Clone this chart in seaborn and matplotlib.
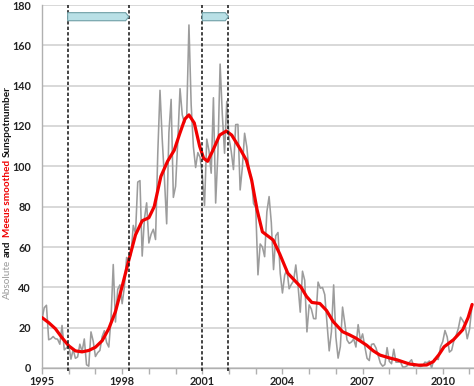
import numpy as np
import pandas as pd
import matplotlib
matplotlib.use("Agg")
import matplotlib.pyplot as plt
import seaborn as sns
from matplotlib.ticker import MultipleLocator
from matplotlib.patches import Polygon

# ---------------- data ----------------
start_year = 1995
monthly_sunspots = [
    24.2, 29.9, 31.1, 14.0, 14.5, 15.6, 14.5, 14.3, 11.8, 21.1, 9.0, 10.0,      # 1995
    11.5, 4.4, 9.2, 4.8, 5.5, 11.8, 8.2, 14.4, 1.6, 0.9, 17.9, 13.3,            # 1996
    5.7, 7.6, 8.7, 15.5, 18.5, 12.7, 10.4, 24.4, 51.3, 22.8, 39.0, 41.2,        # 1997
    31.9, 40.3, 54.8, 53.4, 56.3, 70.7, 66.6, 92.2, 92.9, 55.5, 74.0, 81.9,     # 1998
    62.0, 66.3, 68.8, 63.7, 106.4, 137.7, 113.5, 93.7, 71.5, 116.7, 133.2, 84.6,  # 1999
    90.1, 112.9, 138.5, 125.5, 121.6, 124.9, 170.1, 130.5, 109.7, 99.4, 106.8, 104.4,  # 2000
    95.6, 80.6, 113.5, 107.7, 96.6, 134.0, 81.8, 106.4, 150.7, 125.5, 106.5, 132.2,  # 2001
    114.1, 107.4, 98.4, 120.7, 120.8, 88.3, 99.6, 116.4, 109.6, 97.5, 95.0, 81.6,  # 2002
    79.5, 46.2, 61.5, 60.0, 55.2, 77.4, 85.0, 72.1, 48.8, 65.6, 67.2, 47.0,     # 2003
    37.2, 46.0, 48.9, 39.3, 41.5, 43.2, 51.1, 40.9, 27.7, 48.0, 43.5, 17.9,     # 2004
    31.3, 29.2, 24.5, 24.4, 42.6, 39.6, 39.9, 36.4, 22.1, 8.5, 18.0, 41.2,      # 2005
    15.3, 4.9, 10.6, 30.2, 22.3, 13.9, 12.2, 12.9, 14.4, 10.4, 21.5, 13.6,      # 2006
    16.9, 10.6, 4.8, 3.7, 11.7, 12.0, 10.0, 6.2, 2.4, 0.9, 1.7, 10.1,           # 2007
    3.3, 2.1, 9.3, 2.9, 2.9, 3.1, 0.5, 0.5, 1.1, 2.9, 4.1, 0.8,                 # 2008
    1.5, 1.4, 0.7, 1.2, 2.9, 2.6, 3.5, 0.0, 4.2, 4.6, 4.2, 10.6,                # 2009
    13.1, 18.6, 15.4, 7.9, 8.8, 13.5, 16.1, 19.6, 25.2, 23.5, 21.6, 14.5,       # 2010
    19.0, 29.4,                                                                 # 2011
]

smooth_years = [
    1995.00, 1995.25, 1995.50, 1995.75, 1996.00, 1996.25, 1996.50, 1996.75,
    1997.00, 1997.25, 1997.50, 1997.75, 1998.00, 1998.25, 1998.50, 1998.75,
    1999.00, 1999.20, 1999.45, 1999.70, 1999.95, 2000.15, 2000.35, 2000.50,
    2000.70, 2000.90, 2001.05, 2001.20, 2001.40, 2001.65, 2001.90, 2002.10,
    2002.40, 2002.65, 2002.85, 2003.05, 2003.25, 2003.45, 2003.65, 2003.90,
    2004.20, 2004.45, 2004.70, 2004.90, 2005.10, 2005.40, 2005.65, 2005.90,
    2006.25, 2006.50, 2006.75, 2007.15, 2007.40, 2007.65, 2008.00, 2008.30,
    2008.75, 2009.10, 2009.40, 2009.65, 2009.85, 2010.05, 2010.40, 2010.75,
    2010.95, 2011.10,
]
smooth_values = [
    25.0, 22.5, 19.5, 15.0, 11.0, 8.5, 8.0, 8.7,
    10.3, 13.5, 19.5, 28.0, 40.5, 53.5, 66.0, 73.0,
    74.5, 80.0, 95.0, 102.5, 108.0, 116.0, 123.5, 125.5,
    121.5, 110.0, 104.0, 102.5, 108.0, 115.5, 117.5, 115.5,
    109.0, 103.0, 93.0, 78.5, 67.5, 65.5, 63.5, 56.5,
    47.0, 43.5, 40.0, 35.5, 32.5, 32.0, 28.5, 23.0,
    18.0, 16.5, 14.8, 11.3, 8.5, 6.4, 5.0, 4.0,
    2.0, 1.4, 1.5, 3.2, 6.5, 10.5, 14.0, 19.0,
    25.0, 31.5,
]

# marked periods (dashed boundaries + arrows)
period_starts = [1995.96, 2001.0]
period_ends = [1998.25, 2001.98]

y_ticks = [0, 20, 40, 60, 80, 100, 120, 140, 160, 180]

# ---------------- build frames ----------------
month_years = [start_year + i / 12.0 for i in range(len(monthly_sunspots))]
df_abs = pd.DataFrame({"year": month_years, "ssn": monthly_sunspots})
df_smooth = pd.DataFrame({"year": smooth_years, "ssn": smooth_values})

# ---------------- style ----------------
sns.set_theme(style="whitegrid")
plt.rcParams["font.family"] = ["Lato", "DejaVu Sans"]

W, H = 474, 386
fig = plt.figure(figsize=(W / 100, H / 100), dpi=100)
ax = fig.add_axes([42 / W, 18 / H, 1 - 42 / W, 363 / H])

sns.lineplot(data=df_abs, x="year", y="ssn", ax=ax, color="#9c9c9c",
             linewidth=1.15, zorder=3)
sns.lineplot(data=df_smooth, x="year", y="ssn", ax=ax, color="#f20000",
             linewidth=2.3, zorder=4)

ax.set_xlim(1995, 2011.17)
ax.set_ylim(0, 180)
ax.set_yticks(y_ticks)
ax.xaxis.set_major_locator(MultipleLocator(3))
ax.xaxis.set_minor_locator(MultipleLocator(1))

ax.grid(axis="x", visible=False)
ax.grid(axis="y", color="#d6d6d6", linewidth=1.3)
ax.set_axisbelow(True)

for s in ["top", "right"]:
    ax.spines[s].set_visible(False)
for s in ["left", "bottom"]:
    ax.spines[s].set_visible(True)
    ax.spines[s].set_color("#b0b0b0")
    ax.spines[s].set_linewidth(1.0)

ax.tick_params(axis="y", which="major", direction="out", length=4, width=1,
               color="#b0b0b0", pad=4, labelsize=7.8, labelcolor="#222222")
ax.tick_params(axis="x", which="both", direction="out", length=4, width=1,
               color="#b0b0b0", pad=2, labelsize=7.8, labelcolor="#222222",
               bottom=True)
for lab in ax.get_xticklabels() + ax.get_yticklabels():
    lab.set_fontweight("bold")
ax.set_xlabel("")
ax.set_ylabel("")

# dashed period boundaries and arrows
for x0, x1 in zip(period_starts, period_ends):
    for xx in (x0, x1):
        ax.plot([xx, xx], [-1.5, 180], color="#111111", linewidth=1.1,
                linestyle=(0, (2.2, 1.4)), zorder=5, clip_on=False)
    tip = 0.12
    poly = Polygon([(x0, 172.2), (x1 - tip, 172.2), (x1, 174.2),
                    (x1 - tip, 176.2), (x0, 176.2)], closed=True,
                   facecolor="#b9e0e6", edgecolor="#6f9fa6", linewidth=0.8,
                   zorder=6)
    ax.add_patch(poly)

# multi-coloured rotated y label
fig.canvas.draw()
renderer = fig.canvas.get_renderer()
pieces = [("Absolute", "#9a9a9a", "normal"),
          ("and", "#111111", "bold"),
          ("Meeus smoothed", "#f00000", "bold"),
          ("Sunspotnumber", "#111111", "bold")]
fs = 7.2
texts = []
for s, c, w in pieces:
    t = fig.text(0, 0, s, color=c, fontweight=w, fontsize=fs, rotation=90,
                 rotation_mode="anchor", ha="left", va="center",
                 transform=None)
    texts.append(t)
fig.canvas.draw()
space_px = 3.0
lengths = [t.get_window_extent(renderer).height for t in texts]
total = sum(lengths) + space_px * (len(texts) - 1)
center_y = H - 192.5
xpos = 7.0
y = center_y - total / 2
for t, L in zip(texts, lengths):
    t.set_position((xpos, y))
    y += L + space_px

fig.savefig("out.png", dpi=100)
